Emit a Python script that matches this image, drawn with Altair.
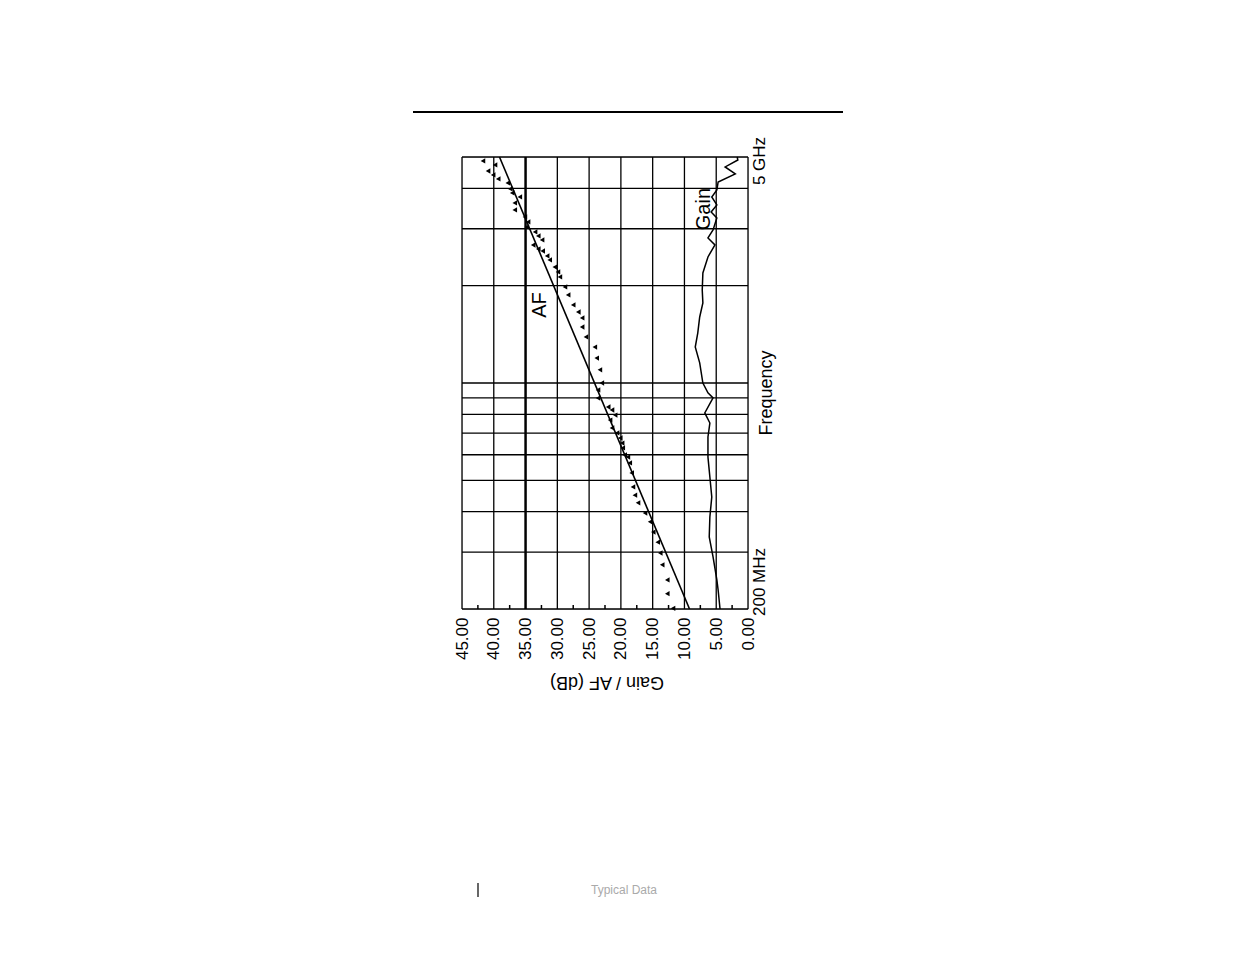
import altair as alt
import pandas as pd

# ---------------- data ----------------
db_ticks = [0, 5, 10, 15, 20, 25, 30, 35, 40, 45]
minor_ticks = [2.5, 7.5, 12.5, 17.5, 22.5, 27.5, 32.5, 37.5, 42.5]
bold_db = [35]
freq_grid = [200, 300, 400, 500, 600, 700, 800, 900, 1000, 2000, 3000, 4000, 5000]

af_freq = [200, 5000]
af_db = [9.2, 39.1]

meas_freq = [201, 223, 246, 274, 298, 322, 346, 372, 396, 426, 450, 477, 527, 566,
             590, 599, 630, 652, 676, 701, 726, 768, 796, 825, 843, 898, 952, 1000,
             1098, 1194, 1292, 1388, 1490, 1590, 1658, 1744, 1872, 1982, 2128, 2206,
             2284, 2402, 2472, 2560, 2598, 2672, 2770, 2850, 2932, 3038, 3148, 3262,
             3430, 3606, 3762, 3870, 3982, 4156, 4276, 4400, 4526, 4726, 4862]
meas_db = [11.8, 12.7, 12.7, 13.5, 13.8, 14.2, 14.9, 15.4, 16.2, 17.3, 17.8, 18.1, 18.3, 18.6,
           18.9, 19.4, 19.7, 19.8, 20.1, 20.6, 21.4, 21.7, 20.9, 21.4, 22.0, 23.6, 23.6, 23.0,
           23.3, 23.8, 24.1, 25.5, 26.1, 26.1, 26.7, 27.5, 28.3, 28.8, 29.6, 29.9,
           30.4, 31.2, 31.6, 32.3, 33.0, 33.8, 32.4, 33.0, 33.5, 34.8, 34.6, 35.1,
           36.7, 36.7, 35.9, 37.1, 37.4, 37.8, 39.3, 40.1, 40.9, 39.8, 41.7]

gain_freq = [200, 229, 246, 290, 334, 385, 444, 512, 590, 681, 752, 808, 899, 932,
             1000, 1154, 1292, 1429, 1600, 1768, 1940, 2190, 2454, 2673, 2810, 2974,
             3238, 3380, 3554, 3762, 3954, 4186, 4432, 4658, 4894, 5000]
gain_db = [4.4, 4.7, 4.9, 5.5, 6.1, 6.0, 5.7, 6.0, 6.3, 6.3, 6.0, 6.8, 5.5, 6.3,
           7.1, 7.6, 8.3, 7.9, 7.6, 7.1, 7.2, 7.1, 6.3, 5.2, 6.3, 5.5,
           4.9, 5.8, 4.9, 5.7, 4.9, 4.7, 2.0, 3.6, 1.6, 1.7]

ann_text = ["AF", "Gain"]
ann_freq = [1742, 3450]
ann_db = [32.7, 6.9]

freq_label_text = ["200 MHz", "5 GHz"]
freq_label_val = [200, 5000]

W, H = 286, 452
FONT = "Liberation Sans"

# ---------------- scales ----------------
xs = alt.Scale(domain=[0, 45], reverse=True, nice=False, zero=False)
ys = alt.Scale(type="log", domain=[200, 5000], nice=False)

x_axis = alt.Axis(values=db_ticks, format=".2f", labelAngle=270, labelAlign="right",
                  labelBaseline="middle", labelPadding=8, labelFontSize=17,
                  labelFont=FONT, labelColor="black", ticks=False, domain=False,
                  grid=False, title=None, labelFlush=False, labelOverlap=False)


def X():
    return alt.X("db:Q", scale=xs, axis=x_axis)


def Y():
    return alt.Y("f:Q", scale=ys, axis=None)


# ---------------- layers ----------------
vgrid = alt.Chart(pd.DataFrame({"db": db_ticks})).mark_rule(
    color="black", strokeWidth=1.3).encode(x=X())

bold = alt.Chart(pd.DataFrame({"db": bold_db})).mark_rule(
    color="black", strokeWidth=2.4).encode(x=X())

hgrid = alt.Chart(pd.DataFrame({"f": freq_grid})).mark_rule(
    color="black", strokeWidth=1.3).encode(y=Y())

minor = alt.Chart(pd.DataFrame({"db": minor_ticks})).mark_rule(
    color="black", strokeWidth=1.5).encode(
    x=X(), y=alt.value(H), y2=alt.value(H - 4))

gain = alt.Chart(pd.DataFrame({"f": gain_freq, "db": gain_db})).mark_line(
    color="black", strokeWidth=1.5).encode(
    x=X(), y=Y(), order=alt.Order("f:Q"))

af = alt.Chart(pd.DataFrame({"f": af_freq, "db": af_db})).mark_line(
    color="black", strokeWidth=1.6).encode(
    x=X(), y=Y(), order=alt.Order("f:Q"))

pts = alt.Chart(pd.DataFrame({"f": meas_freq, "db": meas_db})).mark_point(
    shape="triangle-left", filled=True, size=28, color="black", opacity=1).encode(
    x=X(), y=Y())

ann = alt.Chart(pd.DataFrame({"t": ann_text, "f": ann_freq, "db": ann_db})).mark_text(
    angle=270, align="center", baseline="middle", fontSize=20, font=FONT,
    color="black").encode(x=X(), y=Y(), text="t:N")

lab_lo = alt.Chart(pd.DataFrame({"t": freq_label_text[:1], "f": freq_label_val[:1]})).mark_text(
    angle=270, align="left", baseline="top", fontSize=17, font=FONT, color="black",
    dx=-7).encode(
    x=alt.value(W + 4), y=Y(), text="t:N")

lab_hi = alt.Chart(pd.DataFrame({"t": freq_label_text[1:], "f": freq_label_val[1:]})).mark_text(
    angle=270, align="center", baseline="top", fontSize=17, font=FONT, color="black",
    dx=-4).encode(
    x=alt.value(W + 4), y=Y(), text="t:N")

freq_title = alt.Chart(pd.DataFrame({"t": ["Frequency"]})).mark_text(
    angle=270, align="center", baseline="top", fontSize=18, font=FONT,
    color="black").encode(x=alt.value(W + 10), y=alt.value(236), text="t:N")

db_title = alt.Chart(pd.DataFrame({"t": ["Gain / AF (dB)"]})).mark_text(
    angle=180, align="center", baseline="middle", fontSize=18, font=FONT,
    color="black").encode(x=alt.value(W / 2 + 2), y=alt.value(525), text="t:N")

top_rule = alt.Chart(pd.DataFrame({"a": [0]})).mark_rule(
    color="black", strokeWidth=2).encode(
    x=alt.value(-49), x2=alt.value(381), y=alt.value(-45))

bar_mark = alt.Chart(pd.DataFrame({"a": [0]})).mark_rule(
    color="black", strokeWidth=1.2).encode(
    x=alt.value(16), y=alt.value(726), y2=alt.value(740))

foot = alt.Chart(pd.DataFrame({"t": ["Typical Data"]})).mark_text(
    align="center", baseline="middle", fontSize=12, font=FONT, color="#aaaaaa").encode(
    x=alt.value(162), y=alt.value(733), text="t:N")

chart = alt.layer(
    vgrid, bold, hgrid, minor, gain, af, pts, ann, lab_lo, lab_hi,
    freq_title, db_title, top_rule, bar_mark, foot
).properties(
    width=W, height=H,
    autosize=alt.AutoSizeParams(type="none"),
    padding={"left": 454, "top": 149, "right": 300, "bottom": 300},
).configure_view(stroke="black", strokeWidth=2).configure(background="white")

chart.save("out.html", embed_options={"renderer": "svg", "actions": False})
